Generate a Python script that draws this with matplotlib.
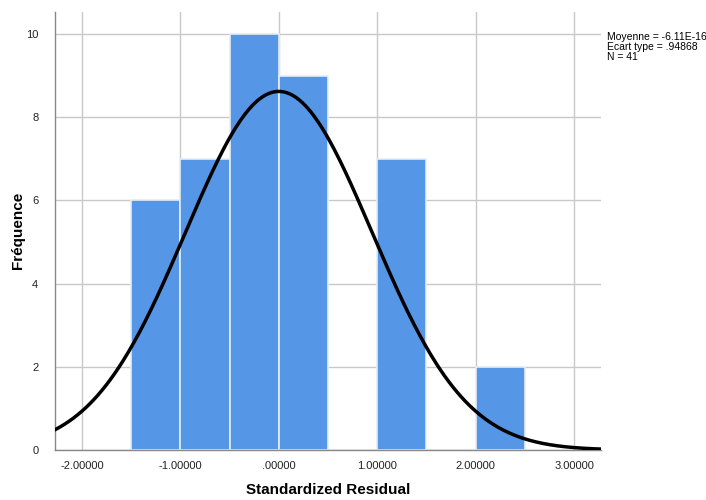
import matplotlib.pyplot as plt
import numpy as np

bin_edges = [-1.5, -1.0, -0.5, 0.0, 0.5, 1.0, 1.5, 2.0, 2.5]
counts = [6, 7, 10, 9, 0, 7, 0, 2]
mean = -6.11e-16
std = 0.94868
n = 41

xticks = [-2, -1, 0, 1, 2, 3]
xtick_labels = ['-2.00000', '-1.00000', '.00000', '1.00000', '2.00000', '3.00000']
yticks = [0, 2, 4, 6, 8, 10]

plt.rcParams['font.family'] = ['Liberation Sans', 'DejaVu Sans']

fig = plt.figure(figsize=(7.06, 5.0), dpi=100)
ax = fig.add_axes([55 / 706, 0.1, (601 - 55) / 706, (450 - 12) / 500])

left = np.array(bin_edges[:-1])
width = np.diff(bin_edges)
ax.bar(left, counts, width=width, align='edge', color='#5596e6',
       edgecolor='#e6edf5', linewidth=1.2, zorder=2)

xs = np.linspace(-2.3, 3.3, 400)
bw = bin_edges[1] - bin_edges[0]
ys = n * bw / (std * np.sqrt(2 * np.pi)) * np.exp(-0.5 * ((xs - mean) / std) ** 2)
ax.plot(xs, ys, color='black', linewidth=2.5, zorder=3)

ax.set_xlim(-2.274, 3.274)
ax.set_ylim(0, 10.53)
ax.set_xticks(xticks)
ax.set_xticklabels(xtick_labels)
ax.set_yticks(yticks)
ax.tick_params(axis='x', length=0, labelsize=8, colors='#222222', pad=8)
ax.tick_params(axis='y', length=0, labelsize=8, colors='#222222', pad=12)
ax.grid(True, color='#c8c8c8', linewidth=1, zorder=0)
ax.set_axisbelow(True)
for s in ['top', 'right']:
    ax.spines[s].set_visible(False)
for s in ['left', 'bottom']:
    ax.spines[s].set_color('#888888')
    ax.spines[s].set_linewidth(1)

ax.set_xlabel('Standardized Residual', fontsize=11, fontweight='bold')
ax.set_ylabel('Fréquence', fontsize=11, fontweight='bold')
# place axis labels where the reference has them
ax.xaxis.set_label_coords((328 - 55) / 546, -(490 - 450) / 438)
ax.yaxis.set_label_coords(-(55 - 18) / 546, (450 - 230) / 438)
ax.xaxis.label.set_va('center')
ax.yaxis.label.set_va('center')

fig.text(607 / 706, 1 - 32 / 500,
         'Moyenne = -6.11E-16\nEcart type = .94868\nN = 41',
         fontsize=7.5, va='top', ha='left', linespacing=1.0)

fig.savefig('out.png', dpi=100)
